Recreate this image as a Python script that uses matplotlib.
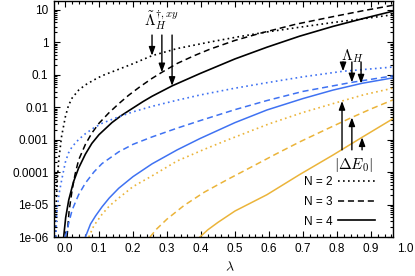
import numpy as np
import matplotlib
matplotlib.use("Agg")
import matplotlib.pyplot as plt
from matplotlib.lines import Line2D
from matplotlib.ticker import FixedLocator, FixedFormatter, LogLocator, MultipleLocator, NullFormatter, FormatStrFormatter

plt.rcParams['font.family'] = ['Liberation Sans', 'DejaVu Sans']
plt.rcParams['mathtext.fontset'] = 'cm'
plt.rcParams['font.size'] = 8.5

# ---------------- data ----------------
# black: Lambda-tilde_H^{dagger,xy}
lam_k2 = [-0.028, -0.026, -0.023, -0.0185, -0.01, 0.001, 0.01, 0.021, 0.04, 0.06, 0.085, 0.109,
          0.158, 0.2, 0.256, 0.33, 0.426, 0.51, 0.594, 0.7, 0.788, 0.88, 0.965]
val_k2 = [1e-6, 1e-5, 5.0e-5, 2.34e-4, 1.26e-3, 5.0e-3, 0.011, 0.019, 0.033, 0.048, 0.068, 0.092,
          0.145, 0.215, 0.38, 0.63, 1.0, 1.45, 2.04, 2.95, 3.98, 5.25, 6.92]

lam_k3 = [0.006, 0.012, 0.021, 0.03, 0.040, 0.06, 0.079, 0.10, 0.129, 0.158, 0.187, 0.22, 0.256,
          0.285, 0.33, 0.38, 0.426, 0.5, 0.574, 0.68, 0.788, 0.88, 0.965]
val_k3 = [1e-6, 6.3e-6, 2.82e-5, 8.9e-5, 2.34e-4, 7.1e-4, 1.58e-3, 3.16e-3, 6.6e-3, 0.0126, 0.0229,
          0.0417, 0.076, 0.117, 0.219, 0.38, 0.60, 1.12, 1.86, 3.55, 6.03, 9.33, 13.5]

lam_k4 = [-0.004, 0.002, 0.011, 0.025, 0.040, 0.06, 0.079, 0.1, 0.138, 0.165, 0.197, 0.23, 0.256,
          0.315, 0.397, 0.5, 0.594, 0.69, 0.788, 0.88, 0.965]
val_k4 = [1e-6, 3.98e-6, 1.38e-5, 5.0e-5, 1.32e-4, 3.55e-4, 7.6e-4, 1.41e-3, 3.31e-3, 5.4e-3, 8.9e-3,
          0.0148, 0.0214, 0.0447, 0.107, 0.302, 0.692, 1.51, 3.02, 5.37, 8.91]

# blue: Lambda_H
lam_b2 = [-0.027, -0.024, -0.018, -0.009, 0.001, 0.01, 0.021, 0.04, 0.06, 0.085, 0.109, 0.158, 0.2,
          0.256, 0.33, 0.397, 0.5, 0.594, 0.7, 0.818, 0.965]
val_b2 = [1e-6, 6.3e-6, 2.0e-5, 6.3e-5, 2.0e-4, 3.8e-4, 6.03e-4, 1.0e-3, 1.51e-3, 2.29e-3, 3.16e-3,
          5.0e-3, 7.1e-3, 0.0105, 0.0162, 0.0234, 0.038, 0.056, 0.085, 0.126, 0.170]

lam_b3 = [0.0, 0.006, 0.011, 0.021, 0.04, 0.06, 0.085, 0.109, 0.158, 0.2, 0.256, 0.33, 0.397, 0.5,
          0.594, 0.7, 0.788, 0.844, 0.965]
val_b3 = [1e-6, 1.58e-6, 2.69e-6, 6.8e-6, 2.0e-5, 4.57e-5, 1.0e-4, 1.82e-4, 4.17e-4, 7.1e-4, 1.2e-3,
          2.24e-3, 3.8e-3, 8.3e-3, 0.0158, 0.0302, 0.0447, 0.0575, 0.091]

lam_b4 = [0.06, 0.075, 0.09, 0.109, 0.13, 0.158, 0.2, 0.256, 0.33, 0.397, 0.5, 0.594, 0.7, 0.788,
          0.874, 0.965]
val_b4 = [1e-6, 2.51e-6, 4.47e-6, 8.5e-6, 1.58e-5, 3.16e-5, 7.2e-5, 1.78e-4, 4.8e-4, 1.07e-3,
          3.31e-3, 8.1e-3, 0.0182, 0.0331, 0.0537, 0.079]

# orange: |Delta E_0|
lam_o2 = [0.07, 0.085, 0.109, 0.13, 0.158, 0.2, 0.256, 0.33, 0.41, 0.476, 0.6, 0.7, 0.8, 0.88, 0.965]
val_o2 = [1e-6, 2.24e-6, 5.0e-6, 8.9e-6, 1.58e-5, 3.55e-5, 7.6e-5, 2.19e-4, 5.0e-4, 9.5e-4,
          3.02e-3, 6.8e-3, 0.0138, 0.024, 0.038]

lam_o3 = [0.25, 0.27, 0.30, 0.35, 0.41, 0.48, 0.544, 0.62, 0.691, 0.77, 0.844, 0.9, 0.965]
val_o3 = [1e-6, 1.78e-6, 3.55e-6, 9.3e-6, 2.4e-5, 6.03e-5, 1.35e-4, 3.55e-4, 8.5e-4, 2.09e-3,
          4.79e-3, 8.7e-3, 0.0166]

lam_o4 = [0.397, 0.42, 0.45, 0.5, 0.594, 0.69, 0.788, 0.874, 0.965]
val_o4 = [1e-6, 1.66e-6, 2.82e-6, 6.3e-6, 2.0e-5, 8.3e-5, 3.31e-4, 1.17e-3, 4.37e-3]

xtick_vals = [0.0, 0.1, 0.2, 0.3, 0.4, 0.5, 0.6, 0.7, 0.8, 0.9, 1.0]
ytick_vals = [1e-6, 1e-5, 1e-4, 1e-3, 1e-2, 1e-1, 1, 10]
ytick_labels = ['1e-06', '1e-05', '0.0001', '0.001', '0.01', '0.1', '1', '10']
legend_labels = ['N = 2', 'N = 3', 'N = 4']

# arrow positions (lambda) for the three groups
arr_k = [0.256, 0.285, 0.315]
arr_b = [0.818, 0.844, 0.871]
arr_o = [0.815, 0.844, 0.874]

# ---------------- style ----------------
BLACK = '#000000'
BLUE = '#3F72F2'
ORANGE = '#EBB43A'
DOT = (0, (1.0, 2.0))
DASH = (0, (4.0, 2.5))
SOLID = '-'

fig = plt.figure(figsize=(4.15, 2.76), dpi=100)
ax = fig.add_axes([54 / 415, 1 - 237 / 276, (393 - 54) / 415, 236 / 276])

curves = [
    (lam_k2, val_k2, BLACK, DOT, 1.2),
    (lam_k3, val_k3, BLACK, DASH, 1.1),
    (lam_k4, val_k4, BLACK, SOLID, 1.2),
    (lam_b2, val_b2, BLUE, DOT, 1.2),
    (lam_b3, val_b3, BLUE, DASH, 1.1),
    (lam_b4, val_b4, BLUE, SOLID, 1.1),
    (lam_o2, val_o2, ORANGE, DOT, 1.2),
    (lam_o3, val_o3, ORANGE, DASH, 1.1),
    (lam_o4, val_o4, ORANGE, SOLID, 1.1),
]
for lx, vy, c, ls, lw in curves:
    ax.plot(lx, vy, color=c, linestyle=ls, linewidth=lw)

ax.set_yscale('log')
ax.set_xlim(-0.0324, 0.965)
ax.set_ylim(1e-6, 18.3)

ax.xaxis.set_major_locator(FixedLocator(xtick_vals))
ax.xaxis.set_minor_locator(MultipleLocator(0.02))
ax.xaxis.set_major_formatter(FormatStrFormatter('%.1f'))
ax.yaxis.set_major_locator(FixedLocator(ytick_vals))
ax.yaxis.set_major_formatter(FixedFormatter(ytick_labels))
ax.yaxis.set_minor_locator(LogLocator(base=10, subs=np.arange(2, 10)))
ax.yaxis.set_minor_formatter(NullFormatter())
ax.tick_params(which='both', direction='in', top=True, right=True, width=0.8)
ax.tick_params(which='major', length=4.0, pad=4)
ax.tick_params(which='minor', length=2.0)
for s in ax.spines.values():
    s.set_linewidth(1.0)

# tick label 1.0 lies just beyond the right edge in the original
ax.annotate('%.1f' % xtick_vals[-1], xy=(xtick_vals[-1], 0), xycoords=('data', 'axes fraction'),
            xytext=(0, -4), textcoords='offset points', ha='center', va='top',
            fontsize=8.5, annotation_clip=False)

ax.set_xlabel(r'$\lambda$', fontsize=10, labelpad=4)
ax.xaxis.set_label_coords(0.52, -0.1)
ax.xaxis.label.set_va('top')

def at(lx, vy, x):
    return 10 ** np.interp(x, lx, np.log10(vy))

arrowprops = dict(arrowstyle='-|>,head_length=0.6,head_width=0.22', color='black', lw=1.0,
                  shrinkA=0, shrinkB=0)

# Lambda-tilde arrows
for x, (lx, vy) in zip(arr_k, [(lam_k2, val_k2), (lam_k3, val_k3), (lam_k4, val_k4)]):
    ax.annotate('', xy=(x, at(lx, vy, x)), xytext=(x, 1.64), arrowprops=arrowprops)
ax.text(0.285, 2.0, r'$\tilde{\Lambda}_H^{\dagger,xy}$', ha='center', va='bottom', fontsize=11)

# Lambda_H arrows
for x, (lx, vy) in zip(arr_b, [(lam_b2, val_b2), (lam_b3, val_b3), (lam_b4, val_b4)]):
    ax.annotate('', xy=(x, at(lx, vy, x)), xytext=(x, 0.243), arrowprops=arrowprops)
ax.text(0.844, 0.20, r'$\Lambda_H$', ha='center', va='bottom', fontsize=11)

# Delta E arrows
for x, (lx, vy) in zip(arr_o, [(lam_o2, val_o2), (lam_o3, val_o3), (lam_o4, val_o4)]):
    ax.annotate('', xy=(x, at(lx, vy, x)), xytext=(x, 4.8e-4), arrowprops=arrowprops)
ax.text(0.85, 3.1e-4, r'$|\Delta E_0|$', ha='center', va='top', fontsize=11)

handles = [Line2D([], [], color='black', linestyle=DOT, lw=1.2),
           Line2D([], [], color='black', linestyle=DASH, lw=1.1),
           Line2D([], [], color='black', linestyle=SOLID, lw=1.2)]
ax.legend(handles, legend_labels, loc='lower right', frameon=False, markerfirst=False,
          handlelength=3.1, handletextpad=0.5, labelspacing=0.65, fontsize=8.5,
          borderaxespad=0.0, bbox_to_anchor=(0.96, 0.02))

fig.savefig('out.png', dpi=100)
